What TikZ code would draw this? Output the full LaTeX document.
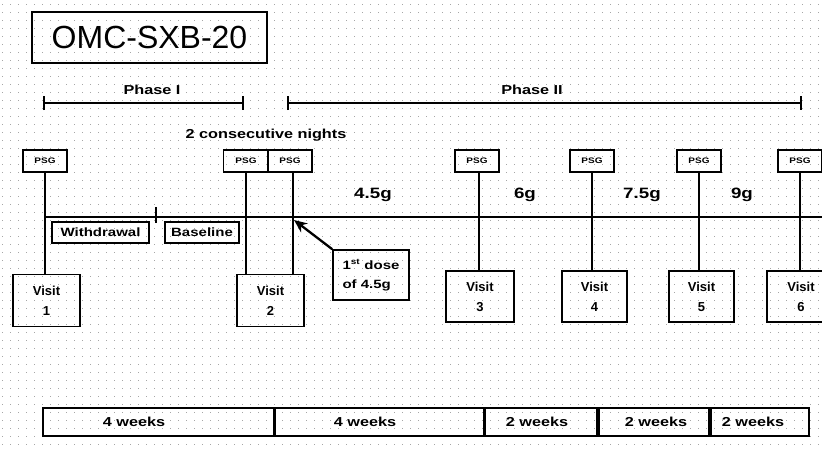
\documentclass[tikz,border=0pt]{standalone}
\usepackage{fontspec}
\setmainfont{Liberation Sans}
\newfontfamily\lab{Liberation Sans}[FakeStretch=1.25]
\usetikzlibrary{arrows.meta}
\begin{document}
\begin{tikzpicture}[x=1pt,y=-1pt,line width=1.6pt,
  lbl/.style={inner sep=0pt,font=\lab\bfseries\fontsize{13}{15}\selectfont},
  dose/.style={inner sep=0pt,font=\lab\bfseries\fontsize{15}{17}\selectfont},
  psgbox/.style={draw,line width=1.5pt,minimum width=44pt,minimum height=22pt,inner sep=0pt,font=\lab\bfseries\fontsize{8}{9}\selectfont},
  visitbox/.style={draw,line width=1.7pt,minimum width=67pt,minimum height=52pt,inner sep=0pt,align=center,font=\bfseries\fontsize{13}{20}\selectfont},
  tagbox/.style={draw,line width=1.3pt,minimum height=21pt,inner sep=0pt,font=\lab\bfseries\fontsize{12}{14}\selectfont},
  cell/.style={draw,line width=1.7pt,minimum height=28pt,inner sep=0pt,anchor=west},
  conn/.style={line width=1.8pt},
  phasebar/.style={line width=1.6pt,{Bar[width=14pt]}-{Bar[width=14pt]}}]
\useasboundingbox (0,0) rectangle (822,450);
\clip (0,0) rectangle (822,450);
\fill[white] (0,0) rectangle (822,450);
% dotted background grid
\foreach \yy in {4,12,...,448}
  \draw[gray!70,line width=0.9pt,dash pattern=on 0.9pt off 7.1pt] (2,\yy) -- (822,\yy);

% title
\node[draw,line width=1.6pt,minimum width=235pt,minimum height=51pt,inner sep=0pt,font=\fontsize{32}{36}\selectfont] (title) at (149.5,37.5) {OMC-SXB-20};

% phases
\coordinate (p1a) at (43,103); \coordinate (p1b) at (244,103);
\coordinate (p2a) at (287,103); \coordinate (p2b) at (802,103);
\draw[phasebar] (p1a) -- (p1b);
\draw[phasebar] (p2a) -- (p2b);
\node[lbl] (ph1) at (152,90) {Phase I};
\node[lbl] (ph2) at (532,90) {Phase II};
\node[lbl] (nights) at (266,135) {2 consecutive nights};

% PSG boxes
\node[psgbox] (psg1) at (45,161) {PSG};
\node[psgbox,minimum width=45pt] (psg2) at (246,161) {PSG};
\node[psgbox] (psg3) at (290,161) {PSG};
\node[psgbox] (psg4) at (477,161) {PSG};
\node[psgbox] (psg5) at (592,161) {PSG};
\node[psgbox] (psg6) at (699,161) {PSG};
\node[psgbox] (psg7) at (800,161) {PSG};

% visit boxes
\node[visitbox] (v1) at (46.5,300.5) {Visit\\1};
\node[visitbox] (v2) at (270.5,300.5) {Visit\\2};
\node[visitbox,minimum width=68pt,minimum height=51pt] (v3) at (480,296.5) {Visit\\3};
\node[visitbox,minimum width=65pt,minimum height=51pt] (v4) at (594.5,296.5) {Visit\\4};
\node[visitbox,minimum width=65pt,minimum height=51pt] (v5) at (701.5,296.5) {Visit\\5};
\node[visitbox,minimum width=68pt,minimum height=51pt] (v6) at (801,296.5) {Visit\\6};

% timeline
\coordinate (tl0) at (45,217);
\coordinate (tl1) at (822,217);
\draw[conn] (tl0) -- (tl1);
\coordinate (tka) at (156,207); \coordinate (tkb) at (156,223);
\draw[line width=1.4pt] (tka) -- (tkb);

% vertical connectors
\draw[conn] (psg1.south) -- (psg1.south |- v1.north);
\draw[conn] (psg2.south) -- (psg2.south |- v2.north);
\draw[conn] ([xshift=3pt]psg3.south) -- ([xshift=3pt]psg3.south |- v2.north);
\draw[conn] ([xshift=2pt]psg4.south) -- ([xshift=2pt]psg4.south |- v3.north);
\draw[conn] (psg5.south) -- (psg5.south |- v4.north);
\draw[conn] (psg6.south) -- (psg6.south |- v5.north);
\draw[conn] (psg7.south) -- (psg7.south |- v6.north);

% doses
\node[dose] (d1) at (373,195) {4.5g};
\node[dose] (d2) at (525,195) {6g};
\node[dose] (d3) at (642,195) {7.5g};
\node[dose] (d4) at (742,195) {9g};

% withdrawal / baseline
\node[tagbox,minimum width=97pt] (wd) at (100.5,232.5) {Withdrawal};
\node[tagbox,minimum width=74pt] (bl) at (202,232.5) {Baseline};

% first dose callout
\node[draw,line width=1.6pt,minimum width=76pt,minimum height=50pt,inner sep=0pt,align=left,font=\lab\bfseries\fontsize{12}{19}\selectfont] (call) at (371,275) {1\textsuperscript{st} dose\\of 4.5g};
\coordinate (dosept) at (294,220);
\draw[line width=2.3pt,-{Stealth[length=13pt,width=11pt]}] (call.north west) -- (dosept);

% bottom weeks bar
\node[cell,minimum width=231pt] (w1) at (42,422) {};
\node[cell,minimum width=208pt] (w2) at (w1.east) {};
\node[cell,minimum width=112pt] (w3) at (w2.east) {};
\node[cell,minimum width=110pt] (w4) at (w3.east) {};
\node[cell,minimum width=98pt] (w5) at (w4.east) {};
\node[lbl] (t1) at (134,422) {4 weeks};
\node[lbl] (t2) at (365,422) {4 weeks};
\node[lbl] (t3) at (537,422) {2 weeks};
\node[lbl] (t4) at (656,422) {2 weeks};
\node[lbl] (t5) at (753,422) {2 weeks};
\end{tikzpicture}
\end{document}
